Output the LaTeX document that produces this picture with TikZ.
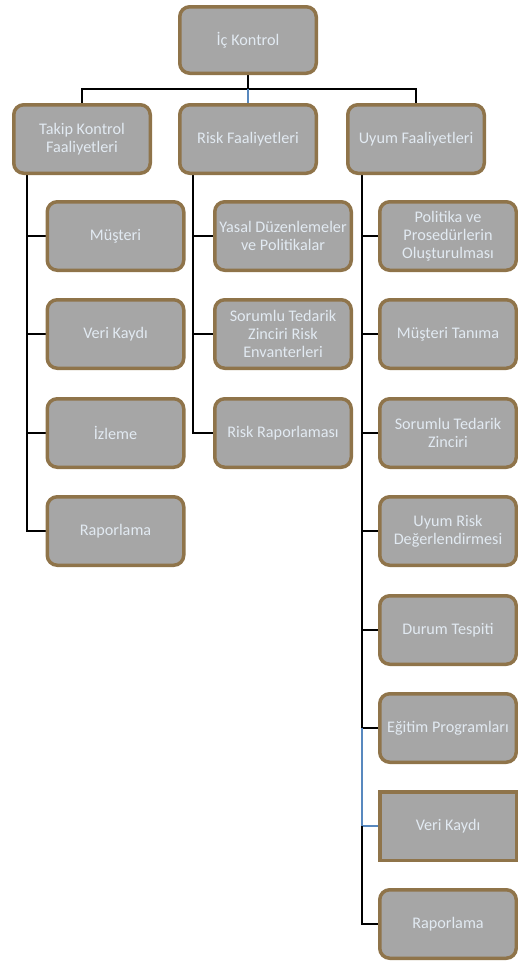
\documentclass[tikz,border=0pt]{standalone}
\usepackage{fontspec}
\setmainfont{Carlito}
\usetikzlibrary{backgrounds}
\definecolor{boxgray}{RGB}{166,166,166}
\definecolor{brn}{RGB}{143,116,74}
\definecolor{txt}{RGB}{226,234,242}
\definecolor{lnblue}{RGB}{88,136,190}
\tikzset{
  box/.style={rectangle, rounded corners=10pt, draw=brn, line width=3.5pt, fill=boxgray,
    text=txt, minimum width=136.5pt, minimum height=68.5pt, align=center, inner sep=0pt,
    font=\fontsize{16.2}{18}\selectfont},
  sqbox/.style={box, sharp corners},
  conn/.style={draw=black, line width=2.4pt},
  bconn/.style={draw=lnblue, line width=2pt},
}
\begin{document}
\begin{tikzpicture}[x=1pt,y=-1pt]
\useasboundingbox (0,0) rectangle (518,964);
\node[box, minimum height=66.5pt] (ic) at (248,40) {İç Kontrol};
\node[box] (tk) at (82,139) {Takip Kontrol\\Faaliyetleri};
\node[box] (rf) at (248,139) {Risk Faaliyetleri};
\node[box] (uf) at (416,139) {Uyum Faaliyetleri};
% Takip children
\node[box] (t1) at (115.5,236) {Müşteri};
\node[box] (t2) at (115.5,334) {Veri Kaydı};
\node[box] (t3) at (115.5,433) {İzleme};
\node[box] (t4) at (115.5,531) {Raporlama};
% Risk children
\node[box] (r1) at (283,236) {Yasal Düzenlemeler\\ve Politikalar};
\node[box] (r2) at (283,334) {Sorumlu Tedarik\\Zinciri Risk\\Envanterleri};
\node[box] (r3) at (283,433) {Risk Raporlaması};
% Uyum children
\node[box] (u1) at (448,236) {Politika ve\\Prosedürlerin\\Oluşturulması};
\node[box] (u2) at (448,334) {Müşteri Tanıma};
\node[box] (u3) at (448,433) {Sorumlu Tedarik\\Zinciri};
\node[box] (u4) at (448,531) {Uyum Risk\\Değerlendirmesi};
\node[box] (u5) at (448,630) {Durum Tespiti};
\node[box] (u6) at (448,728) {Eğitim Programları};
\node[sqbox] (u7) at (448,826) {Veri Kaydı};
\node[box] (u8) at (448,924) {Raporlama};
\coordinate (bus) at (248,89);
\coordinate (tt) at (27,175);
\coordinate (rt) at (193,175);
\coordinate (ut) at (362,175);
\begin{pgfonlayer}{background}
\draw[conn] (ic.south) -- (bus);
\draw[conn] (tk.north) |- (bus) -| (uf.north);
\draw[bconn] (bus) -- (rf.north);
\foreach \c in {t1,t2,t3,t4} \draw[conn] (tt) |- (\c.west);
\foreach \c in {r1,r2,r3} \draw[conn] (rt) |- (\c.west);
\foreach \c in {u1,u2,u3,u4,u5,u6} \draw[conn] (ut) |- (\c.west);
\draw[bconn] (ut |- u6.west) |- (u7.west);
\draw[conn] (ut |- u7.west) |- (u8.west);
\end{pgfonlayer}
\end{tikzpicture}
\end{document}
